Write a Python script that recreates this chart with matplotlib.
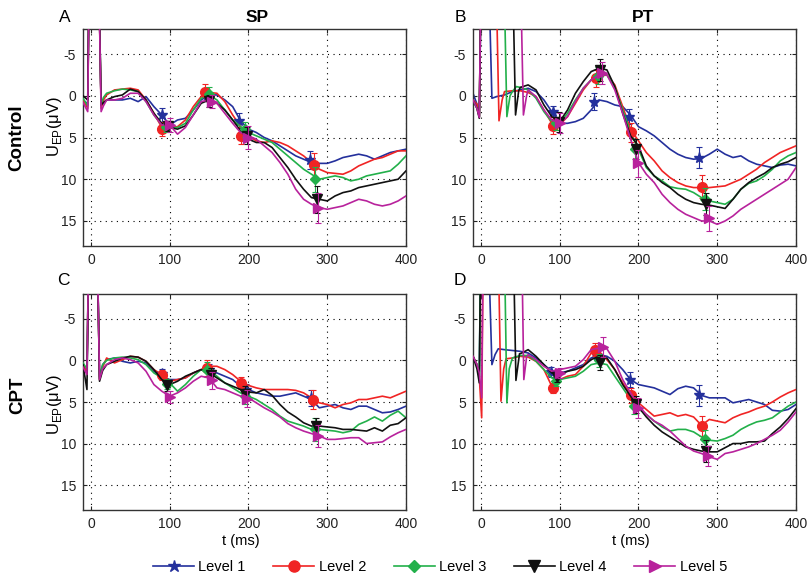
import numpy as np
import matplotlib
matplotlib.use('Agg')
import matplotlib.pyplot as plt
from matplotlib.lines import Line2D

plt.rcParams['font.family'] = ['Liberation Sans', 'DejaVu Sans']
plt.rcParams['axes.unicode_minus'] = False

levels = ['Level 1', 'Level 2', 'Level 3', 'Level 4', 'Level 5']
colors = ['#24309c', '#f02424', '#22b04a', '#111111', '#b8229c']
marks = ['*', 'o', 'D', 'v', '>']
msizes = [8, 7, 5.5, 7, 7]

OFF = -25  # stimulus artefact, far above the plotted range
t_late = list(range(60, 410, 10))

# ---- A: SP, control ----
a_early_t = [[-10, -4, -1, 8, 13, 16, 20, 30, 40, 50]] * 5
a_early_v = [
    [0.5, 1.0, OFF, OFF, 1.2, 0.9, 0.5, 0.5, 0.5, 0.3],
    [0.5, 1.5, OFF, OFF, 1.5, 0.5, -0.1, -0.7, -0.8, -0.9],
    [0.3, 1.2, OFF, OFF, 1.0, 0.2, -0.3, -0.6, -0.8, -0.7],
    [0.0, 0.5, OFF, OFF, 1.1, 0.8, 0.5, 0.1, -0.1, -0.8],
    [0.8, 1.9, OFF, OFF, 1.9, 1.2, 0.5, 0.5, 0.3, -0.3],
]
a_late = [
    [0.7, 0.1, 1.3, 2.3, 3.5, 2.9, 2.7, 1.7, 0.5, -0.1, -0.1, 0.5, 1.3, 3.0, 4.0, 4.4, 5.0, 5.4,
     6.0, 6.6, 7.2, 7.6, 8.0, 8.1, 8.1, 7.8, 7.4, 7.2, 7.0, 7.2, 7.6, 7.2, 6.8, 6.6, 6.4],
    [-0.7, 0.5, 2.1, 3.8, 3.8, 3.7, 2.9, 1.3, 0.1, -0.4, -0.3, 0.7, 2.3, 3.7, 4.8, 5.4, 5.6, 5.4,
     5.6, 6.0, 6.6, 7.2, 8.0, 8.8, 9.2, 9.3, 9.4, 9.0, 8.4, 8.0, 7.6, 7.4, 7.0, 6.6, 6.6],
    [-0.5, 0.7, 2.3, 3.5, 3.8, 3.8, 3.3, 1.7, 0.3, -0.1, 0.5, 1.7, 2.9, 3.7, 4.4, 4.8, 5.2, 5.6,
     6.4, 7.2, 8.0, 8.8, 9.4, 10.0, 9.8, 9.6, 9.8, 10.2, 10.0, 9.6, 9.4, 9.2, 9.0, 8.2, 7.2],
    [-0.5, 0.5, 2.1, 3.3, 3.8, 4.0, 3.6, 2.3, 0.9, 0.5, 0.9, 1.7, 2.9, 4.2, 5.2, 5.6, 5.6, 6.2,
     7.4, 8.6, 10.0, 11.2, 12.2, 12.4, 12.6, 12.0, 11.6, 11.4, 11.0, 10.8, 10.6, 10.4, 10.2, 10.0, 9.0],
    [-0.3, 0.7, 2.3, 3.5, 3.5, 4.6, 3.8, 2.3, 0.7, 0.5, 0.9, 2.1, 3.3, 4.4, 4.8, 5.2, 6.0, 6.8,
     8.0, 9.4, 11.2, 12.4, 13.0, 13.4, 13.6, 13.4, 13.2, 12.8, 12.4, 12.6, 13.0, 13.2, 13.0, 12.6, 12.0],
]
a_pk_t = [[90, 148, 188, 278], [90, 145, 190, 283], [95, 150, 195, 285],
          [98, 150, 198, 287], [100, 154, 200, 288]]
a_pk_v = [[2.3, 0.0, 3.0, 7.7], [4.0, -0.4, 4.8, 8.3], [3.7, -0.2, 4.0, 10.0],
          [3.6, 0.6, 4.8, 12.4], [3.5, 0.7, 5.0, 13.4]]
a_pk_e = [[0.8, 0.6, 0.9, 1.1], [0.8, 1.0, 1.0, 1.5], [0.7, 0.8, 0.9, 1.5],
          [0.6, 0.7, 1.0, 1.6], [0.8, 0.8, 1.4, 1.8]]

# ---- B: PT, control ----
b_early_t = [
    [-10, -5, -2, 2, 7, 14, 20, 30, 40, 50],
    [-10, -5, -2, 1.5, 17, 23, 27, 30, 40, 50],
    [-10, -5, -2, 1.5, 27, 33, 37, 40, 45, 50],
    [-10, -5, -2, 1.5, 38, 44, 48, 50],
    [-10, -5, -2, 1.5, 48, 54, 58],
]
b_early_v = [
    [-0.3, 1.0, 2.5, OFF, OFF, 0.3, 0.1, -0.1, -0.5, -0.7],
    [0.5, 1.0, 2.5, OFF, OFF, 3.0, 0.5, -0.5, -0.6, -0.6],
    [0.5, 1.5, 2.5, OFF, OFF, 2.5, 0.0, -0.5, -1.1, -1.0],
    [0.5, 1.5, 2.7, OFF, OFF, 2.3, -0.6, -1.0],
    [0.5, 1.5, 2.6, OFF, OFF, 2.3, 0.0],
]
b_late = [
    [-0.9, -0.5, 0.5, 1.9, 3.3, 3.3, 3.1, 2.7, 1.7, 0.5, 0.7, 1.1, 1.3, 2.3, 3.7, 4.2, 4.8, 5.6,
     6.4, 7.0, 7.4, 7.6, 7.5, 7.0, 6.4, 7.0, 7.4, 7.2, 7.8, 8.2, 8.4, 8.6, 8.3, 8.2, 8.4],
    [-0.4, 0.1, 1.7, 3.3, 3.5, 2.5, 0.9, -0.7, -1.9, -2.3, -2.5, -1.3, 1.3, 4.0, 5.4, 6.8, 7.8, 9.0,
     9.8, 10.4, 10.8, 11.0, 11.0, 11.0, 10.9, 10.8, 10.4, 10.0, 9.4, 8.8, 8.0, 7.4, 6.8, 6.4, 6.0],
    [-0.7, 0.3, 1.9, 3.1, 3.3, 2.1, 0.5, -0.9, -1.9, -2.5, -2.5, -1.1, 1.7, 4.4, 6.4, 8.6, 9.6, 10.2,
     10.9, 11.1, 11.2, 11.6, 12.2, 12.6, 12.8, 13.0, 12.4, 11.2, 10.5, 10.2, 9.6, 8.8, 7.8, 7.2, 6.8],
    [-1.3, -0.7, 1.1, 2.5, 3.1, 1.7, -0.3, -1.7, -2.9, -3.3, -3.1, -1.1, 2.1, 4.8, 6.0, 8.4, 9.6, 10.4,
     11.0, 11.8, 12.4, 12.8, 13.0, 13.1, 13.3, 13.5, 12.4, 11.2, 10.4, 9.8, 9.3, 8.6, 8.2, 7.9, 7.4],
    [-0.7, 0.1, 1.7, 2.9, 3.3, 2.5, 0.7, -0.9, -1.9, -2.5, -2.5, -0.7, 2.1, 5.2, 8.0, 9.4, 10.4, 11.8,
     12.8, 13.6, 14.2, 14.6, 15.0, 15.0, 15.4, 15.0, 14.4, 13.6, 13.0, 12.4, 11.8, 11.2, 10.6, 10.0, 8.6],
]
b_pk_t = [[91, 143, 188, 277], [91, 146, 191, 281], [95, 149, 196, 284],
          [99, 151, 197, 286], [100, 154, 199, 289]]
b_pk_v = [[2.0, 0.7, 2.5, 7.4], [3.6, -2.1, 4.4, 10.9], [3.3, -2.4, 6.4, 12.4],
          [3.1, -3.1, 6.4, 13.0], [3.3, -2.7, 8.1, 14.7]]
b_pk_e = [[0.8, 1.0, 0.9, 1.3], [1.0, 1.0, 1.1, 1.4], [0.8, 1.0, 1.2, 1.3],
          [1.2, 1.3, 1.2, 1.3], [1.2, 1.3, 1.6, 1.5]]

# ---- C: SP, CPT ----
c_early_t = [[-10, -5, -1, 6, 11, 15, 20, 30, 40, 50]] * 5
c_early_v = [
    [0.5, 1.5, OFF, OFF, 2.0, 0.5, -0.1, -0.3, 0.1, 0.3],
    [0.5, 1.5, OFF, OFF, 2.3, 0.8, -0.3, 0.3, -0.1, -0.5],
    [0.3, 1.0, OFF, OFF, 2.2, 0.5, 0.0, -0.3, -0.4, -0.3],
    [0.5, 3.5, OFF, OFF, 2.5, 1.2, 0.5, 0.1, -0.3, -0.5],
    [0.8, 1.7, OFF, OFF, 2.3, 1.0, 0.5, -0.1, -0.3, -0.1],
]
c_late = [
    [0.1, 0.3, 1.3, 1.9, 2.3, 2.3, 2.1, 1.5, 1.1, 1.5, 1.5, 1.9, 2.3, 3.1, 3.5, 3.9, 4.1, 4.3,
     4.3, 4.1, 3.9, 4.3, 4.7, 5.7, 5.5, 5.3, 5.7, 5.9, 5.5, 5.5, 5.9, 6.3, 6.2, 5.9, 5.5],
    [-0.4, 0.1, 1.1, 1.7, 2.5, 2.3, 2.1, 1.5, 1.1, 0.7, 0.7, 1.1, 1.7, 2.5, 3.0, 3.3, 3.5, 3.5,
     3.5, 3.5, 3.6, 3.9, 4.5, 5.1, 5.3, 5.7, 5.3, 5.1, 4.7, 4.7, 4.5, 4.3, 4.5, 4.1, 3.7],
    [-0.1, 0.5, 1.5, 2.1, 2.7, 3.7, 2.9, 1.9, 1.1, 1.1, 1.9, 2.7, 3.3, 3.9, 4.3, 4.7, 5.3, 5.9,
     6.7, 7.3, 7.6, 7.9, 8.3, 8.3, 8.4, 8.5, 8.7, 8.5, 7.7, 7.3, 6.8, 7.3, 6.6, 6.1, 6.9],
    [-0.4, 0.1, 1.1, 2.3, 2.9, 2.5, 1.9, 1.5, 1.1, 1.5, 2.1, 2.7, 3.1, 3.5, 3.8, 3.9, 3.5, 4.2,
     5.3, 6.2, 6.8, 7.5, 7.9, 7.9, 8.0, 8.1, 8.3, 8.3, 8.4, 8.5, 8.1, 8.5, 7.8, 7.6, 6.9],
    [0.3, 1.3, 2.9, 3.7, 4.3, 3.9, 3.3, 2.5, 1.9, 2.1, 3.3, 3.5, 3.9, 4.3, 4.5, 5.1, 5.7, 6.2,
     6.8, 7.6, 8.1, 8.5, 8.8, 9.1, 9.5, 9.5, 9.4, 9.3, 9.3, 10.0, 9.9, 9.8, 9.2, 8.7, 8.3],
]
c_pk_t = [[90, 150, 197, 279], [90, 148, 191, 282], [96, 147, 195, 285],
          [97, 152, 196, 286], [100, 154, 198, 288]]
c_pk_v = [[1.6, 1.2, 3.6, 4.5], [1.8, 0.9, 2.7, 4.7], [2.8, 1.1, 4.3, 8.3],
          [3.0, 1.7, 4.0, 7.9], [4.4, 2.4, 4.6, 9.1]]
c_pk_e = [[0.6, 0.8, 0.8, 1.0], [0.6, 1.0, 0.7, 1.1], [0.6, 0.9, 0.9, 1.4],
          [0.7, 0.8, 0.9, 1.0], [0.7, 1.0, 1.0, 1.3]]

# ---- D: PT, CPT ----
d_early_t = [
    [-10, -5, -2, 1, 6, 14, 18, 22, 30, 40, 50],
    [-10, -5, -2, 1, 4, 20, 25.5, 29, 32, 40, 50],
    [-10, -5, -2, 1, 28, 33, 36, 40, 50],
    [-10, -5, -2, 1, 39, 44.5, 49, 52],
    [-10, -5, -2, 1, 4, 50, 54.5, 58],
]
d_early_v = [
    [-0.5, 0.5, 2.0, OFF, OFF, 0.5, -0.7, -1.4, -1.3, -1.2, -1.1],
    [-0.5, 0.5, 2.0, 6.9, OFF, OFF, 4.9, 1.0, -0.2, -0.3, -0.5],
    [-0.5, 0.5, 2.0, OFF, OFF, 5.1, 1.0, -0.3, -0.6],
    [-0.5, 1.0, 2.7, OFF, OFF, 2.4, -0.8, -0.9],
    [-0.5, 0.5, 1.5, 4.5, OFF, OFF, 2.3, -0.4],
]
d_late = [
    [-0.9, -0.3, 0.5, 1.3, 1.5, 1.3, 0.9, 0.5, -0.3, -0.7, -0.5, 0.1, 1.1, 2.3, 2.9, 3.1, 3.3, 3.7,
     4.1, 3.4, 3.1, 3.3, 4.2, 4.5, 4.5, 4.5, 5.1, 4.9, 4.7, 5.0, 5.3, 6.0, 6.1, 5.9, 5.3],
    [-0.4, 0.1, 1.1, 3.1, 2.3, 1.9, 1.7, 0.7, -0.9, -1.1, -0.1, 1.1, 2.7, 4.1, 5.1, 5.9, 6.7, 6.5,
     6.3, 6.7, 6.5, 6.8, 7.8, 7.1, 7.3, 7.5, 6.9, 6.5, 6.2, 5.8, 5.5, 5.0, 4.4, 3.9, 3.5],
    [-0.6, 0.1, 1.1, 2.1, 2.3, 2.1, 1.9, 1.3, 0.5, 0.3, 0.5, 1.9, 3.3, 4.7, 5.8, 6.5, 7.3, 8.0,
     8.5, 8.3, 8.3, 8.6, 9.2, 9.6, 9.7, 9.4, 9.0, 8.3, 7.8, 7.4, 7.2, 6.9, 6.2, 5.5, 5.0],
    [-1.3, -0.5, 0.5, 1.5, 1.7, 1.3, 1.1, 0.7, -0.1, -0.5, -0.3, 1.1, 2.9, 4.3, 5.6, 6.8, 7.8, 8.6,
     9.2, 9.8, 10.4, 10.7, 10.9, 11.0, 11.0, 10.5, 10.0, 10.0, 9.8, 9.8, 9.7, 8.8, 8.0, 7.0, 5.8],
    [-0.7, -0.1, 0.7, 1.3, 1.1, 0.9, 0.7, -0.1, -1.3, -1.5, -1.4, 0.1, 2.3, 3.9, 5.4, 6.5, 7.3, 7.8,
     8.5, 9.4, 10.3, 10.9, 11.2, 11.6, 11.9, 11.2, 11.0, 10.7, 10.4, 10.0, 9.5, 9.0, 8.4, 7.4, 6.2],
]
d_pk_t = [[89, 148, 189, 277], [91, 145, 190, 281], [95, 150, 194, 284],
          [97, 151, 197, 286], [101, 155, 199, 288]]
d_pk_v = [[1.4, -0.5, 2.3, 4.2], [3.3, -1.3, 4.2, 7.9], [2.5, 0.0, 5.5, 9.4],
          [2.0, 0.2, 5.3, 10.9], [1.5, -1.6, 5.7, 11.5]]
d_pk_e = [[0.6, 0.8, 0.9, 1.3], [0.6, 0.8, 0.9, 1.2], [0.6, 0.8, 0.9, 1.0],
          [0.6, 0.9, 1.0, 1.3], [0.6, 1.2, 1.2, 1.2]]

panels = [
    (a_early_t, a_early_v, a_late, a_pk_t, a_pk_v, a_pk_e),
    (b_early_t, b_early_v, b_late, b_pk_t, b_pk_v, b_pk_e),
    (c_early_t, c_early_v, c_late, c_pk_t, c_pk_v, c_pk_e),
    (d_early_t, d_early_v, d_late, d_pk_t, d_pk_v, d_pk_e),
]

W, H = 807, 580
fig = plt.figure(figsize=(W / 100, H / 100), dpi=100)

# axes boxes in pixels: left, top, right, bottom
boxes = [(83, 29, 406, 246), (473, 29, 796, 246),
         (83, 294, 406, 510), (473, 294, 796, 510)]

axes = []
for (l, t, r, b), data in zip(boxes, panels):
    ax = fig.add_axes([l / W, 1 - b / H, (r - l) / W, (b - t) / H])
    early_t, early_v, late, pk_t, pk_v, pk_e = data
    for i in range(5):
        tt = list(early_t[i]) + t_late
        vv = list(early_v[i]) + late[i]
        ax.plot(tt, vv, color=colors[i], lw=1.2, zorder=2 + i)
        ax.errorbar(pk_t[i], pk_v[i], yerr=pk_e[i], fmt=marks[i], color=colors[i],
                    ms=msizes[i], mec=colors[i], elinewidth=0.8, capsize=2,
                    capthick=0.8, zorder=3 + i)
    ax.set_xlim(-10, 400)
    ax.set_ylim(18, -8)
    ax.set_xticks([0, 100, 200, 300, 400])
    ax.set_yticks([-5, 0, 5, 10, 15])
    ax.grid(True, color='black', ls=(0, (1, 4)), lw=0.8)
    ax.tick_params(direction='in', length=3, top=True, right=True,
                   labelsize=10, pad=5, colors='#222222')
    for s in ax.spines.values():
        s.set_color('#333333')
        s.set_linewidth(1.0)
    axes.append(ax)

# titles, panel letters and row labels
fig.text(257 / W, 1 - 17 / H, 'SP', ha='center', va='center', fontsize=12.5, fontweight='bold')
fig.text(643 / W, 1 - 17 / H, 'PT', ha='center', va='center', fontsize=12.5, fontweight='bold')
for lab, x, y in [('A', 65, 17), ('B', 460, 17), ('C', 63, 280), ('D', 460, 280)]:
    fig.text(x / W, 1 - y / H, lab, ha='center', va='center', fontsize=12.5)
fig.text(17 / W, 1 - 138 / H, 'Control', rotation=90, ha='center', va='center',
         fontsize=13.5, fontweight='bold')
fig.text(18 / W, 1 - 395 / H, 'CPT', rotation=90, ha='center', va='center',
         fontsize=13.5, fontweight='bold')
ylab = 'U$_{\\mathregular{EP}}$(μV)'
fig.text(55 / W, 1 - 127 / H, ylab, rotation=90, ha='center', va='center', fontsize=12)
fig.text(55 / W, 1 - 405 / H, ylab, rotation=90, ha='center', va='center', fontsize=12)
fig.text(241 / W, 1 - 541 / H, 't (ms)', ha='center', va='center', fontsize=10.5)
fig.text(631 / W, 1 - 541 / H, 't (ms)', ha='center', va='center', fontsize=10.5)

handles = [Line2D([], [], color=colors[i], lw=1.2, marker=marks[i], ms=msizes[i] + 1,
                  mec=colors[i]) for i in range(5)]
fig.legend(handles, levels, loc='center', bbox_to_anchor=(440 / W, 1 - 567 / H), ncol=5,
           frameon=False, fontsize=10.5, handlelength=2.8, handletextpad=0.3,
           columnspacing=1.9, borderaxespad=0)

fig.savefig('out.png', dpi=100)
